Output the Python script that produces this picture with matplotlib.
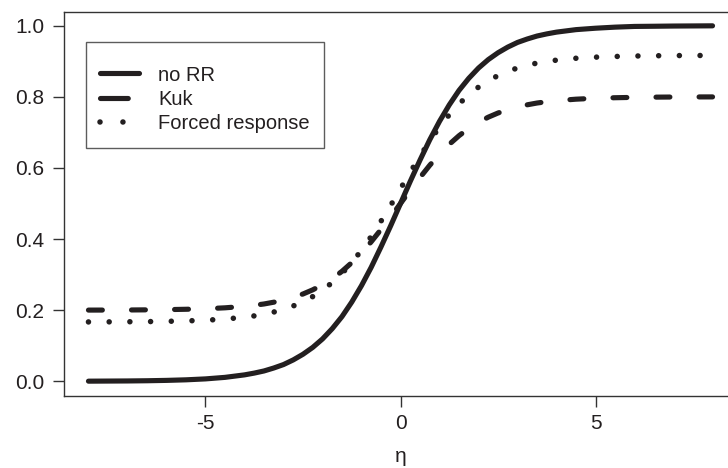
import matplotlib
matplotlib.use("Agg")
import matplotlib.pyplot as plt
from matplotlib.lines import Line2D

plt.rcParams['font.family'] = ['Liberation Sans', 'DejaVu Sans']
plt.rcParams['lines.scale_dashes'] = False

eta = [-8.0, -7.5, -7.0, -6.5, -6.0, -5.5, -5.0, -4.5, -4.0, -3.75, -3.5, -3.25,
       -3.0, -2.75, -2.5, -2.25, -2.0, -1.75, -1.5, -1.25, -1.0, -0.75, -0.5, -0.25,
       0.0, 0.25, 0.5, 0.75, 1.0, 1.25, 1.5, 1.75, 2.0, 2.25, 2.5, 2.75, 3.0, 3.25,
       3.5, 3.75, 4.0, 4.5, 5.0, 5.5, 6.0, 6.5, 7.0, 7.5, 8.0]
no_rr = [0.0003, 0.0006, 0.0009, 0.0015, 0.0025, 0.0041, 0.0067, 0.0110, 0.0180,
         0.0230, 0.0290, 0.0373, 0.0470, 0.0601, 0.0760, 0.0953, 0.1190, 0.1480,
         0.1820, 0.2227, 0.2690, 0.3208, 0.3780, 0.4378, 0.5000, 0.5622, 0.6220,
         0.6792, 0.7310, 0.7773, 0.8180, 0.8520, 0.8810, 0.9047, 0.9240, 0.9399,
         0.9530, 0.9627, 0.9710, 0.9770, 0.9820, 0.9890, 0.9930, 0.9960, 0.9980,
         0.9985, 0.9991, 0.9994, 0.9997]
kuk = [0.2002, 0.2003, 0.2005, 0.2009, 0.2015, 0.2025, 0.2040, 0.2066, 0.2108,
       0.2138, 0.2174, 0.2224, 0.2284, 0.2361, 0.2455, 0.2572, 0.2715, 0.2888,
       0.3093, 0.3336, 0.3614, 0.3925, 0.4269, 0.4627, 0.5000, 0.5373, 0.5731,
       0.6075, 0.6386, 0.6664, 0.6907, 0.7112, 0.7285, 0.7428, 0.7545, 0.7639,
       0.7716, 0.7776, 0.7826, 0.7862, 0.7892, 0.7934, 0.7960, 0.7975, 0.7985,
       0.7991, 0.7995, 0.7997, 0.7998]
forced = [0.1669, 0.1671, 0.1674, 0.1678, 0.1686, 0.1698, 0.1717, 0.1750, 0.1801,
          0.1839, 0.1884, 0.1947, 0.2022, 0.2118, 0.2236, 0.2382, 0.2560, 0.2777,
          0.3032, 0.3337, 0.3684, 0.4073, 0.4502, 0.4950, 0.5417, 0.5883, 0.6331,
          0.6761, 0.7149, 0.7497, 0.7801, 0.8057, 0.8274, 0.8452, 0.8598, 0.8716,
          0.8812, 0.8887, 0.8950, 0.8994, 0.9032, 0.9085, 0.9116, 0.9135, 0.9148,
          0.9155, 0.9160, 0.9162, 0.9164]
labels = ["no RR", "Kuk", "Forced response"]
xticks = [-5, 0, 5]
yticks = [0.0, 0.2, 0.4, 0.6, 0.8, 1.0]
xlabel = "η"

W, H = 728, 468
fig = plt.figure(figsize=(W / 100, H / 100), dpi=100)
left, right, top, bottom = 63.5, 737.5, 11.5, 395.5
ax = fig.add_axes([left / W, 1 - bottom / H, (right - left) / W, (bottom - top) / H])

col = '#231f20'
lw = 3.7
ax.plot(eta, no_rr, color=col, lw=lw, solid_capstyle='round', solid_joinstyle='round')
ax.plot(eta, kuk, color=col, lw=lw, dashes=(10, 21), dash_capstyle='round', dash_joinstyle='round')
ax.plot(eta, forced, color=col, lw=4.0, dashes=(0.01, 14.9), dash_capstyle='round')

ax.set_xlim(-8.64, 8.64)
ax.set_ylim(-0.04, 1.04)
ax.set_xticks(xticks)
ax.set_xticklabels([str(t) for t in xticks])
ax.set_yticks(yticks)
ax.set_yticklabels([f"{t:.1f}" for t in yticks])
ax.tick_params(axis='both', length=8, width=1, color='#333333', labelsize=15,
               labelcolor='#231f20', pad=5)
ax.tick_params(axis='y', pad=6)
for s in ax.spines.values():
    s.set_color('#333333')
    s.set_linewidth(1)
ax.set_xlabel(xlabel, fontsize=15, color='#231f20', labelpad=10.5)

handles = [
    Line2D([], [], color=col, lw=lw, solid_capstyle='round'),
    Line2D([], [], color=col, lw=lw, dashes=(20, 30), dash_capstyle='round'),
    Line2D([], [], color=col, lw=4.0, dashes=(0.01, 16.5), dash_capstyle='round'),
]
leg = ax.legend(handles, labels, loc='upper left',
                bbox_to_anchor=(86 / W, 1 - 42 / H), bbox_transform=fig.transFigure,
                borderaxespad=0, fontsize=14.5, handlelength=1.95, handletextpad=0.95,
                labelspacing=0.27, borderpad=0.7, fancybox=False, frameon=True,
                title=' ', title_fontsize=2)
leg.get_frame().set_edgecolor('#333333')
leg.get_frame().set_linewidth(1)
for t in leg.get_texts():
    t.set_color('#231f20')

fig.savefig("out.png", dpi=100)
